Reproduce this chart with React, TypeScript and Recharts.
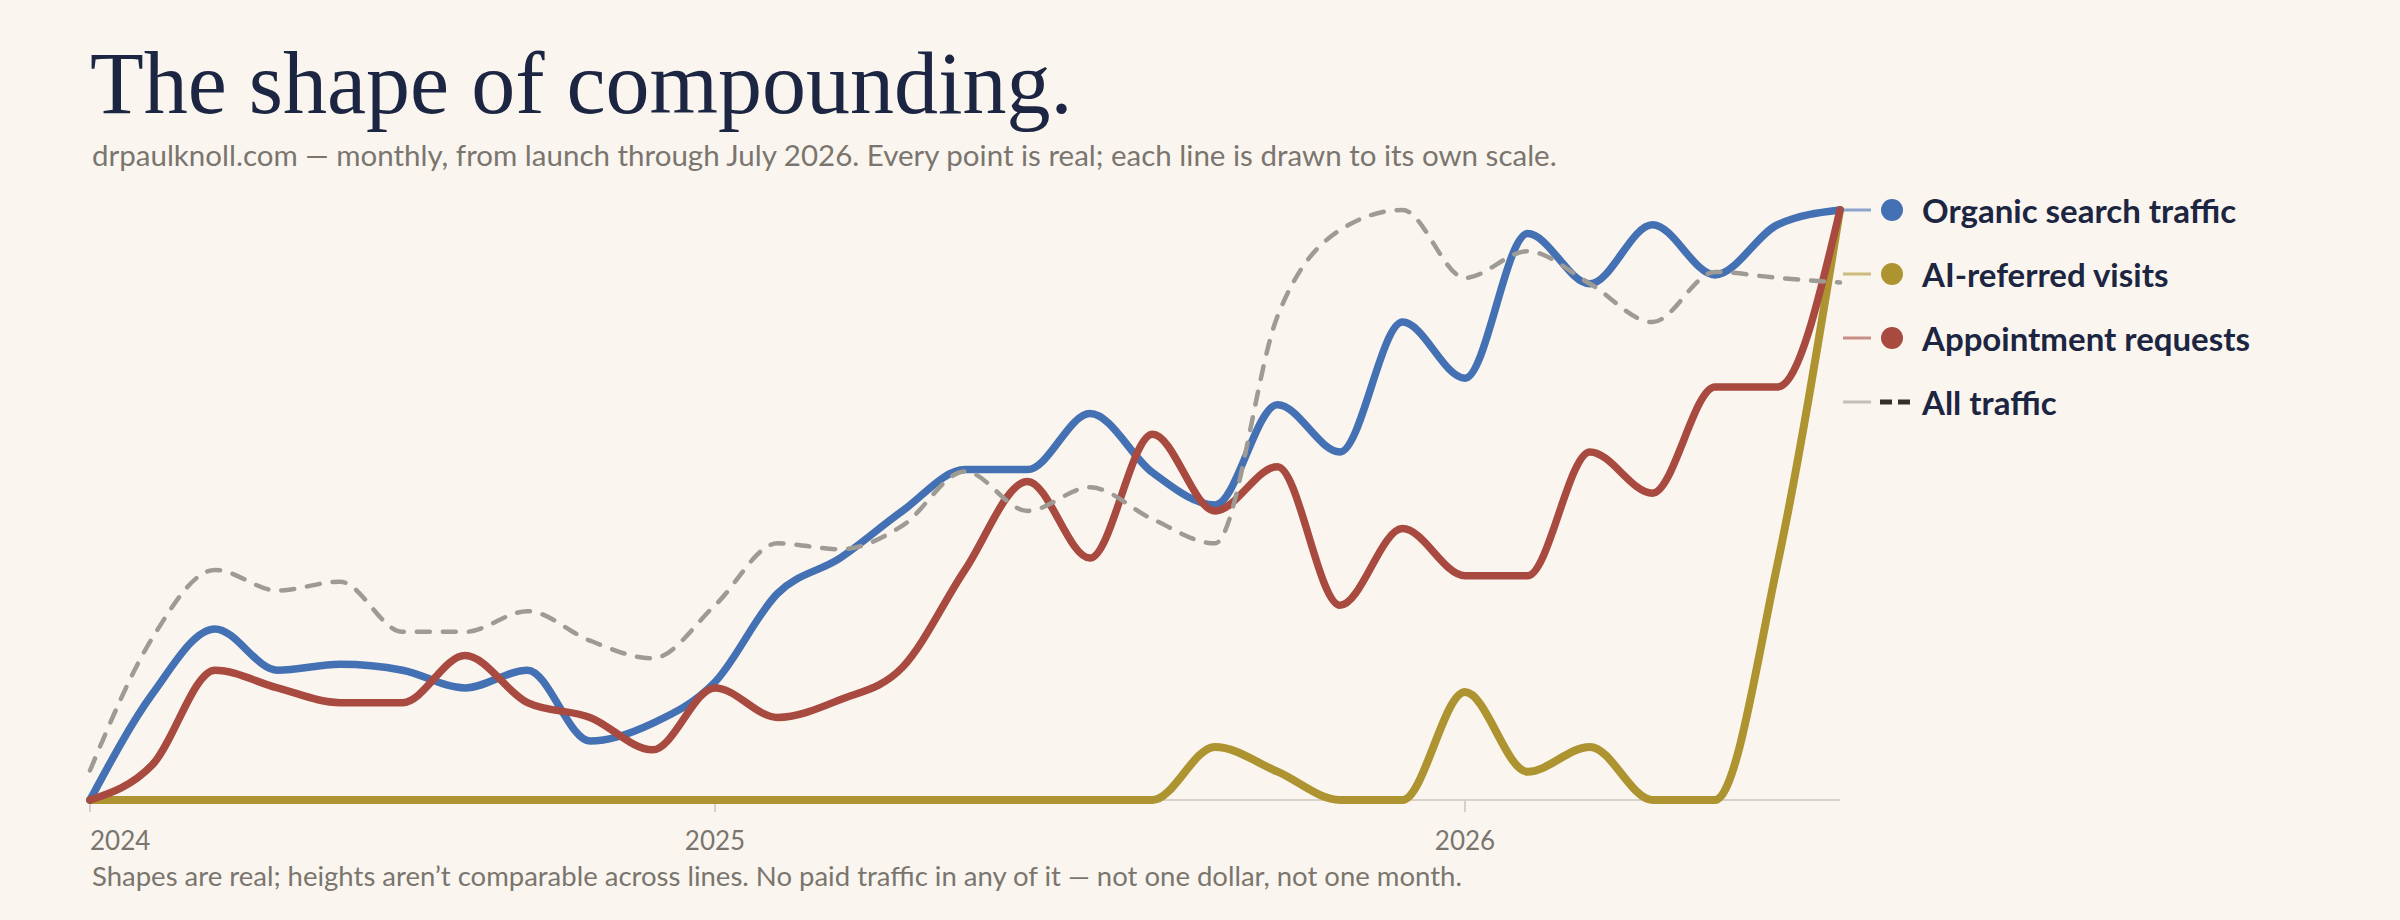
import React from 'react'
import { LineChart, Line, XAxis, YAxis } from 'recharts'

// monthly, March 2024 (launch) through July 2026
const months = [
  '2024-03', '2024-04', '2024-05', '2024-06', '2024-07', '2024-08', '2024-09', '2024-10', '2024-11', '2024-12',
  '2025-01', '2025-02', '2025-03', '2025-04', '2025-05', '2025-06', '2025-07', '2025-08', '2025-09', '2025-10',
  '2025-11', '2025-12', '2026-01', '2026-02', '2026-03', '2026-04', '2026-05', '2026-06', '2026-07',
]

// each series scaled to its own max (1 = peak)
const organic = [
  0, 0.18, 0.29, 0.22, 0.23, 0.22, 0.19, 0.22, 0.1, 0.13,
  0.2, 0.35, 0.41, 0.49, 0.56, 0.56, 0.655, 0.555, 0.5, 0.67,
  0.59, 0.81, 0.715, 0.96, 0.875, 0.975, 0.89, 0.975, 1,
]
const aiReferred = [
  0, 0, 0, 0, 0, 0, 0, 0, 0, 0,
  0, 0, 0, 0, 0, 0, 0, 0, 0.09, 0.048,
  0, 0, 0.183, 0.048, 0.09, 0, 0, 0.4, 1,
]
const appointments = [
  0, 0.06, 0.22, 0.19, 0.165, 0.165, 0.245, 0.165, 0.14, 0.085,
  0.19, 0.14, 0.17, 0.225, 0.39, 0.54, 0.41, 0.62, 0.49, 0.565,
  0.33, 0.46, 0.38, 0.38, 0.59, 0.52, 0.7, 0.7, 1,
]
const allTraffic = [
  0.05, 0.275, 0.39, 0.355, 0.37, 0.285, 0.285, 0.32, 0.27, 0.24,
  0.33, 0.435, 0.425, 0.465, 0.557, 0.49, 0.53, 0.476, 0.435, 0.82,
  0.966, 1, 0.885, 0.93, 0.875, 0.81, 0.895, 0.885, 0.877,
]

const tickMonths = ['2024-03', '2025-01', '2026-01']
const tickLabels = ['2024', '2025', '2026']

const data = months.map((m, i) => ({
  month: m,
  organic: organic[i],
  ai: aiReferred[i],
  appt: appointments[i],
  all: allTraffic[i],
}))

const BG = '#faf6ef'
const INK = '#1c2541'
const MUTED = '#7a756e'

const legendItems = [
  { label: 'Organic search traffic', color: '#4470b4', dashed: false },
  { label: 'AI-referred visits', color: '#ad9431', dashed: false },
  { label: 'Appointment requests', color: '#a84a3f', dashed: false },
  { label: 'All traffic', color: '#9e9a94', dashed: true },
]

const YearTick = (props: any) => {
  const { x, y, payload, index } = props
  const label = tickLabels[tickMonths.indexOf(payload.value)]
  return (
    <text
      x={x}
      y={y + 26}
      textAnchor={index === 0 ? 'start' : 'middle'}
      dominantBaseline="central"
      fill={MUTED}
      fontSize={26}
      fontFamily="Lato, sans-serif"
    >
      {label}
    </text>
  )
}

export default function App() {
  const lineProps: any = { type: 'monotone', dot: false, activeDot: false, isAnimationActive: false, zIndex: 600 }
  return (
    <div style={{ position: 'fixed', left: 0, top: 0, width: 2400, height: 920, background: BG, overflow: 'hidden' }}>
      <div style={{ position: 'absolute', left: 90, top: 40, fontFamily: '"Liberation Serif", serif', fontSize: 88, color: INK, lineHeight: 1 }}>
        The shape of compounding.
      </div>
      <div style={{ position: 'absolute', left: 92, top: 137, fontFamily: 'Lato, sans-serif', fontSize: 29.5, color: MUTED }}>
        drpaulknoll.com — monthly, from launch through July 2026. Every point is real; each line is drawn to its own scale.
      </div>

      <div style={{ position: 'absolute', left: 0, top: 0 }}>
        <LineChart width={2400} height={920} data={data} margin={{ top: 210, right: 560, bottom: 70, left: 90 }}>
          <XAxis
            dataKey="month"
            ticks={tickMonths}
            interval={0}
            height={50}
            tick={<YearTick />}
            tickSize={12}
            tickLine={{ stroke: '#d6d1c9', strokeWidth: 2 }}
            axisLine={{ stroke: '#d6d1c9', strokeWidth: 2 }}
          />
          <YAxis hide domain={[0, 1]} />
          <Line {...lineProps} dataKey="ai" stroke="#ad9431" strokeWidth={8} strokeLinecap="round" />
          <Line {...lineProps} dataKey="organic" stroke="#4470b4" strokeWidth={7.5} strokeLinecap="round" />
          <Line {...lineProps} dataKey="appt" stroke="#a84a3f" strokeWidth={7.5} strokeLinecap="round" />
          <Line {...lineProps} dataKey="all" stroke="#9e9a94" strokeWidth={4.5} strokeDasharray="13 13" strokeLinecap="round" />
        </LineChart>
      </div>

      <svg style={{ position: 'absolute', left: 0, top: 0 }} width={2400} height={920}>
        {legendItems.map((item, i) => {
          const y = 210 + i * 64
          return (
            <g key={item.label}>
              <line x1={1843} x2={1871} y1={y} y2={y} stroke={item.color} strokeOpacity={0.6} strokeWidth={3} />
              {item.dashed ? (
                <g>
                  <line x1={1880} x2={1892} y1={y} y2={y} stroke="#333029" strokeWidth={5} />
                  <line x1={1898} x2={1910} y1={y} y2={y} stroke="#333029" strokeWidth={5} />
                </g>
              ) : (
                <circle cx={1892} cy={y} r={11} fill={item.color} />
              )}
              <text x={1922} y={y} dominantBaseline="central" fill={INK} fontSize={33} fontWeight={700} fontFamily="Lato, sans-serif">
                {item.label}
              </text>
            </g>
          )
        })}
      </svg>

      <div style={{ position: 'absolute', left: 92, top: 859, fontFamily: 'Lato, sans-serif', fontSize: 27.5, color: MUTED }}>
        Shapes are real; heights aren’t comparable across lines. No paid traffic in any of it — not one dollar, not one month.
      </div>
    </div>
  )
}
